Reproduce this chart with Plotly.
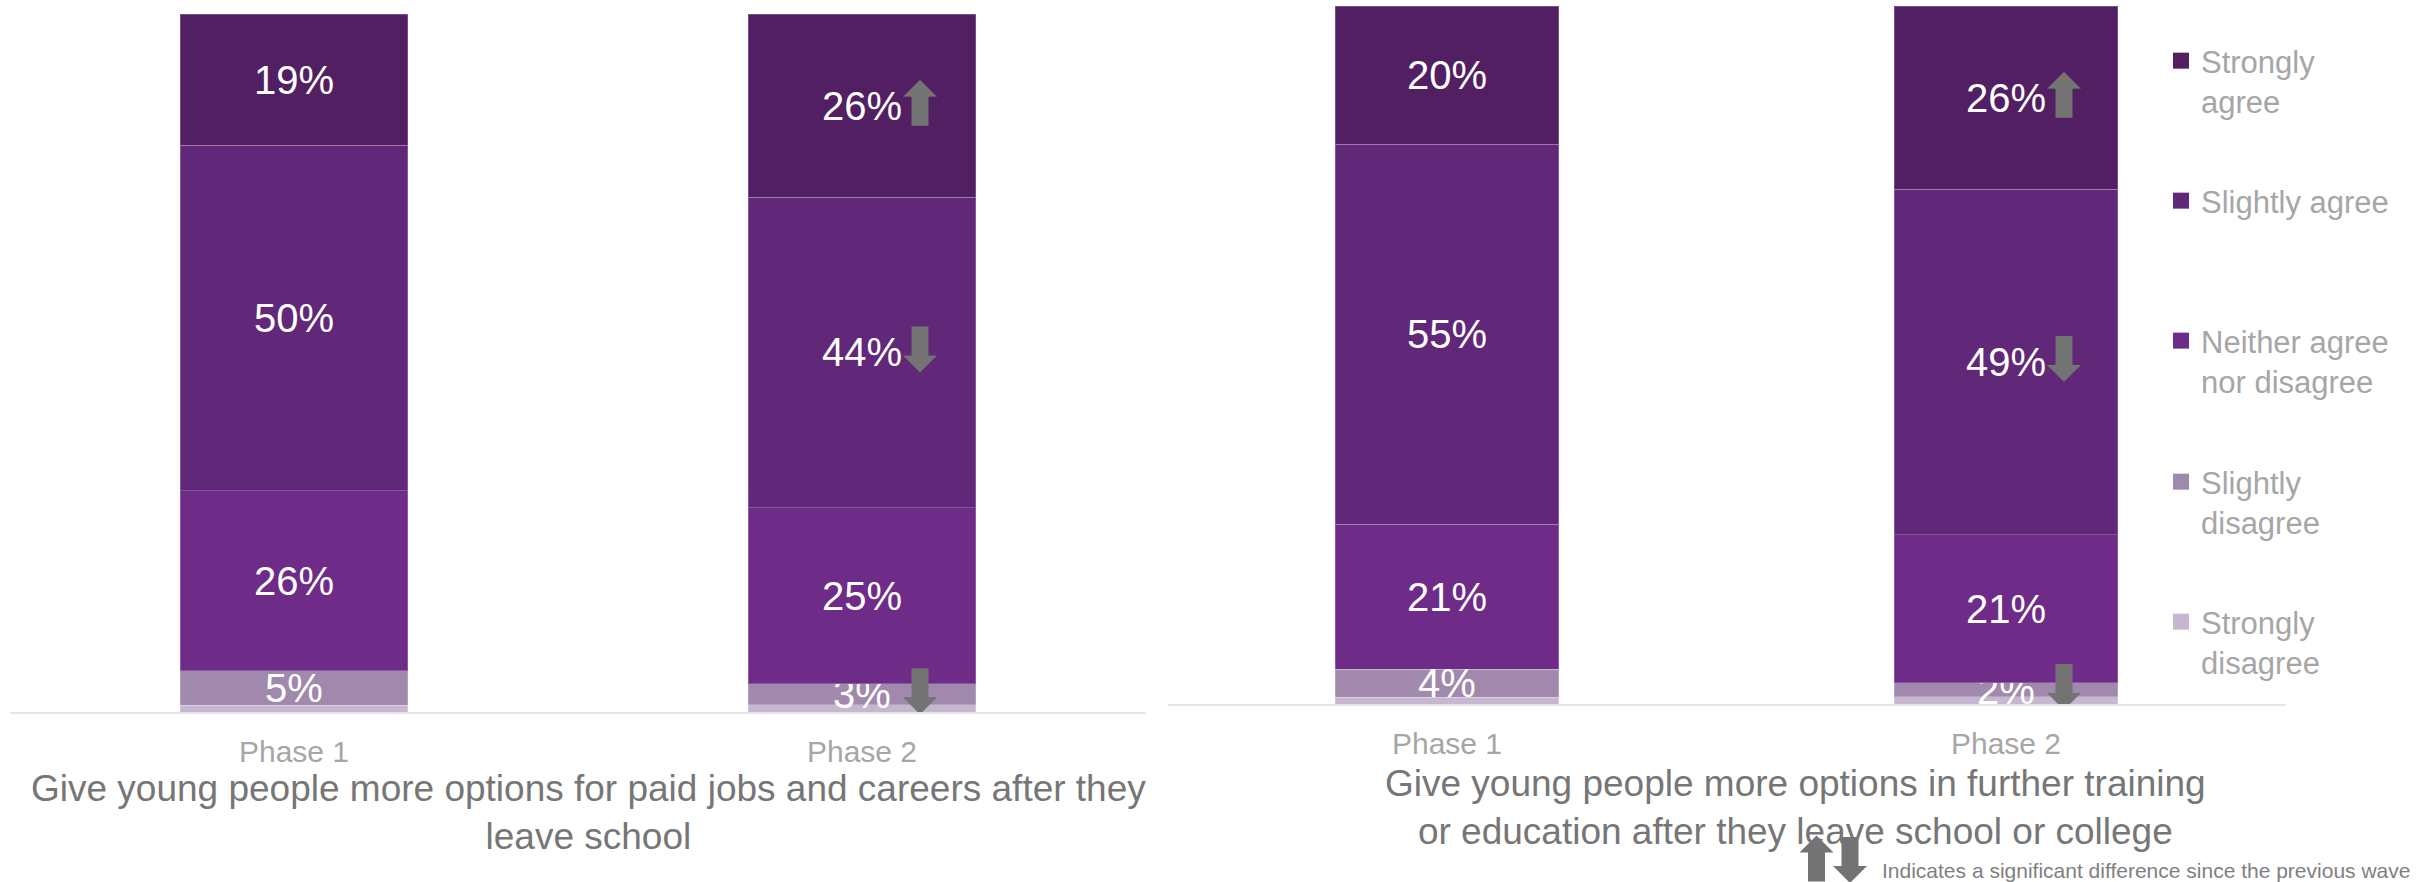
import plotly.graph_objects as go

W, H = 2419, 882

phases = ["Phase 1", "Phase 2"]

# Response scale, listed bottom of the stack to top
responses = ["Strongly disagree", "Slightly disagree", "Neither agree nor disagree",
             "Slightly agree", "Strongly agree"]
legend_labels = ["Strongly<br>disagree", "Slightly<br>disagree", "Neither agree<br>nor disagree",
                 "Slightly agree", "Strongly<br>agree"]
colors = ["#c6b6d0", "#a089ac", "#6e2c88", "#612779", "#521f63"]

# Paid jobs and careers (% of respondents, Phase 1 / Phase 2)
jobs_strongly_disagree = [1, 1]
jobs_slightly_disagree = [5, 3]
jobs_neither = [26, 25]
jobs_slightly_agree = [50, 44]
jobs_strongly_agree = [19, 26]

# Further training or education (% of respondents, Phase 1 / Phase 2)
edu_strongly_disagree = [1, 1]
edu_slightly_disagree = [4, 2]
edu_neither = [21, 21]
edu_slightly_agree = [55, 49]
edu_strongly_agree = [20, 26]

# Significant changes since the previous wave: (response, phase, direction)
jobs_changes = [("Strongly agree", "Phase 2", "up"),
                ("Slightly agree", "Phase 2", "down"),
                ("Slightly disagree", "Phase 2", "down")]
edu_changes = [("Strongly agree", "Phase 2", "up"),
               ("Slightly agree", "Phase 2", "down"),
               ("Slightly disagree", "Phase 2", "down")]

jobs_title = "Give young people more options for paid jobs and careers after they<br>leave school"
edu_title = "Give young people more options in further training<br>or education after they leave school or college"
footnote = "Indicates a significant difference since the previous wave"

charts = [
    dict(series=[jobs_strongly_disagree, jobs_slightly_disagree, jobs_neither,
                 jobs_slightly_agree, jobs_strongly_agree],
         changes=jobs_changes, xa="x", ya="y"),
    dict(series=[edu_strongly_disagree, edu_slightly_disagree, edu_neither,
                 edu_slightly_agree, edu_strongly_agree],
         changes=edu_changes, xa="x2", ya="y2"),
]

LABEL_FONT = "Liberation Sans, Arial, sans-serif"
ARROW_GREY = "#737373"


def arrow_path(direction, dx=0.0, dy=0.0):
    pts = [(0, 23), (17, 6), (8.5, 6), (8.5, -23), (-8.5, -23), (-8.5, 6), (-17, 6)]
    sign = 1 if direction == "up" else -1
    return "M" + " L".join(f"{x + dx:.1f},{sign * y + dy:.1f}" for x, y in pts) + " Z"


def legend_key(i):
    # top legend row is "legend", the rows below are legend2..legend5
    row = 4 - i
    return "legend" if row == 0 else f"legend{row + 1}"


fig = go.Figure()
shapes = []

for k, chart in enumerate(charts):
    series = chart["series"]
    for i, (resp, vals) in enumerate(zip(responses, series)):
        text = ["" if resp == "Strongly disagree" else f"{v}%" for v in vals]
        fig.add_trace(go.Bar(
            x=phases, y=vals, name=legend_labels[i],
            marker=dict(color=colors[i], line=dict(color="rgba(255,255,255,0.22)", width=1)),
            text=text, texttemplate="%{text}", textposition="inside",
            insidetextanchor="middle", textangle=0, constraintext="none",
            textfont=dict(color="white", size=40, family=LABEL_FONT),
            xaxis=chart["xa"], yaxis=chart["ya"],
            showlegend=False, hoverinfo="skip",
        ))

    # arrows beside the segments that changed significantly
    for resp, phase, direction in chart["changes"]:
        p = phases.index(phase)
        r = responses.index(resp)
        col = [s[p] for s in series]
        total = sum(col)
        below = sum(col[:r])
        mid = (below + col[r] / 2) / total * 100
        shapes.append(dict(
            type="path", xref=chart["xa"], yref=chart["ya"],
            xsizemode="pixel", ysizemode="pixel", xanchor=phase, yanchor=mid,
            path=arrow_path(direction, dx=58, dy=3),
            fillcolor=ARROW_GREY, line=dict(width=0), layer="above",
        ))

# legend keys: square swatches, one legend box per response
for i, resp in enumerate(responses):
    fig.add_trace(go.Scatter(
        x=[None], y=[None], mode="markers", name=legend_labels[i],
        marker=dict(symbol="square", size=16, color=colors[i]),
        legend=legend_key(i), showlegend=True, hoverinfo="skip",
    ))

# key arrows next to the footnote
for cx, cy, direction in [(1816.5, 858.5, "up"), (1850.0, 860.0, "down")]:
    shapes.append(dict(
        type="path", xref="paper", yref="paper",
        xsizemode="pixel", ysizemode="pixel", xanchor=cx / W, yanchor=(H - cy) / H,
        path=arrow_path(direction), fillcolor=ARROW_GREY, line=dict(width=0),
    ))

axis_common = dict(
    type="category", showgrid=False, zeroline=False, showline=True,
    linecolor="#e6e6e6", linewidth=2, ticks="", ticklabelstandoff=12,
    tickfont=dict(size=30, color="#a6a6a6", family=LABEL_FONT), fixedrange=True,
)
yaxis_common = dict(range=[0, 100], visible=False, fixedrange=True)

legend_common = dict(
    font=dict(size=31, color="#a6a6a6", family=LABEL_FONT),
    xanchor="left", yanchor="top", valign="top",
    bgcolor="rgba(0,0,0,0)", borderwidth=0, itemclick=False, itemdoubleclick=False,
)
legend_rows = [56, 196, 336, 477, 617]  # first-line centres, top to bottom
legends = {}
for j, yc in enumerate(legend_rows):
    key = "legend" if j == 0 else f"legend{j + 1}"
    legends[key] = dict(legend_common, x=2161 / W, y=(H - (yc - 22)) / H)

fig.update_layout(
    width=W, height=H, margin=dict(l=0, r=0, t=0, b=0),
    paper_bgcolor="white", plot_bgcolor="white",
    font=dict(family=LABEL_FONT),
    barmode="stack", barnorm="percent", bargap=0.6,
    xaxis=dict(axis_common, domain=[10 / W, 1146 / W], anchor="y"),
    yaxis=dict(yaxis_common, domain=[(H - 712) / H, (H - 14) / H], anchor="x"),
    xaxis2=dict(axis_common, domain=[1167.5 / W, 2285.5 / W], anchor="y2"),
    yaxis2=dict(yaxis_common, domain=[(H - 704) / H, (H - 6) / H], anchor="x2"),
    shapes=shapes,
    annotations=[
        dict(text=jobs_title, x=588 / W, y=(H - 812.5) / H, xref="paper", yref="paper",
             xanchor="center", yanchor="middle", showarrow=False,
             font=dict(size=37, color="#767676", family=LABEL_FONT)),
        dict(text=edu_title, x=1795 / W, y=(H - 807) / H, xref="paper", yref="paper",
             xanchor="center", yanchor="middle", showarrow=False,
             font=dict(size=37, color="#767676", family=LABEL_FONT)),
        dict(text=footnote, x=1880 / W, y=(H - 870) / H, xref="paper", yref="paper",
             xanchor="left", yanchor="middle", showarrow=False,
             font=dict(size=21, color="#7f7f7f", family=LABEL_FONT)),
    ],
    **legends,
)

fig.write_html("out.html")
